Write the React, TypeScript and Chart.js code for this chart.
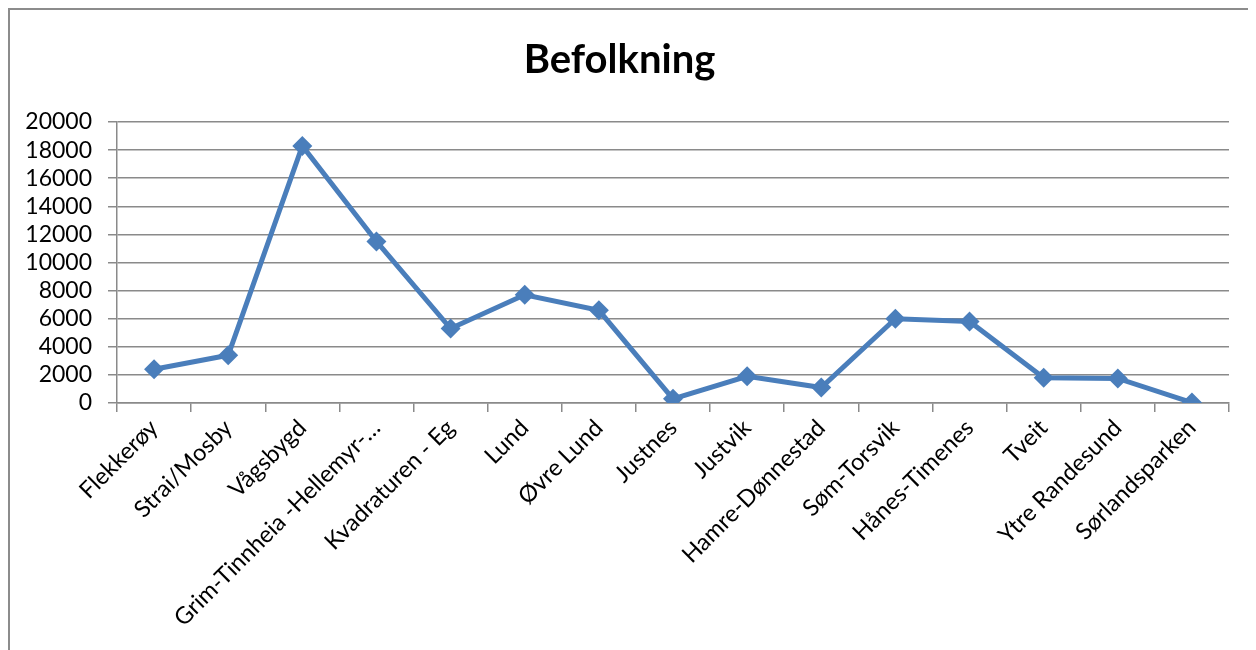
import React, { useEffect, useRef } from "react";
import { Chart, registerables } from "chart.js";

Chart.register(...registerables);

const categories: string[] = [
  "Flekkerøy",
  "Strai/Mosby",
  "Vågsbygd",
  "Grim-Tinnheia -Hellemyr-…",
  "Kvadraturen - Eg",
  "Lund",
  "Øvre Lund",
  "Justnes",
  "Justvik",
  "Hamre-Dønnestad",
  "Søm-Torsvik",
  "Hånes-Timenes",
  "Tveit",
  "Ytre Randesund",
  "Sørlandsparken",
];

const befolkning: number[] = [
  2400, 3400, 18300, 11500, 5300, 7700, 6600, 300, 1900, 1100, 6000, 5800, 1800, 1750, 30,
];

const yTicks: number[] = [0, 2000, 4000, 6000, 8000, 10000, 12000, 14000, 16000, 18000, 20000];

const titleText = "Befolkning";

const FONT = "Lato, 'Open Sans', sans-serif";
const GRID = "#8a8a8a";
const BLUE = "#4a7ebb";

export default function App() {
  const ref = useRef<HTMLCanvasElement | null>(null);

  useEffect(() => {
    if (!ref.current) return;
    const chart = new Chart(ref.current, {
      type: "line",
      data: {
        labels: categories,
        datasets: [
          {
            label: titleText,
            data: befolkning,
            borderColor: BLUE,
            backgroundColor: BLUE,
            borderWidth: 5,
            pointStyle: "rectRot",
            pointRadius: 10,
            pointBorderWidth: 0,
            pointBackgroundColor: BLUE,
            tension: 0,
          },
        ],
      },
      options: {
        animation: false,
        responsive: false,
        maintainAspectRatio: false,
        layout: { padding: { left: 0, right: 27, top: 0, bottom: 0 } },
        plugins: {
          legend: { display: false },
          tooltip: { enabled: false },
          title: {
            display: true,
            text: titleText,
            color: "#000",
            font: { family: FONT, size: 40, weight: "bold" },
            padding: { top: 26, bottom: 38 },
          },
        },
        scales: {
          x: {
            type: "category",
            offset: true,
            grid: {
              display: true,
              drawOnChartArea: false,
              drawTicks: true,
              tickLength: 9,
              offset: true,
              color: GRID,
              lineWidth: 1.5,
            },
            border: { display: true, color: GRID, width: 1.5 },
            ticks: {
              autoSkip: false,
              maxRotation: 45,
              minRotation: 45,
              color: "#000",
              padding: 2,
              font: { family: FONT, size: 23.5 },
            },
            afterFit: (scale: any) => {
              scale.height = 247;
            },
          },
          y: {
            min: 0,
            max: 20000,
            afterBuildTicks: (scale: any) => {
              scale.ticks = yTicks.map((v) => ({ value: v }));
            },
            grid: {
              color: GRID,
              lineWidth: 1.5,
              drawTicks: true,
              tickLength: 9,
            },
            border: { display: true, color: GRID, width: 1.5 },
            ticks: {
              autoSkip: false,
              stepSize: 2000,
              color: "#000",
              padding: 16,
              font: { family: FONT, size: 23 },
              callback: (v: any) => String(v),
            },
            afterFit: (scale: any) => {
              scale.width = 107;
            },
          },
        },
      },
    });
    return () => chart.destroy();
  }, []);

  return (
    <div
      style={{
        width: 1248,
        height: 642,
        boxSizing: "border-box",
        borderLeft: "2px solid #8c8c8c",
        borderTop: "2px solid #8c8c8c",
        overflow: "hidden",
        background: "#fff",
      }}
    >
      <canvas ref={ref} width={1246} height={640} style={{ display: "block" }} />
    </div>
  );
}
